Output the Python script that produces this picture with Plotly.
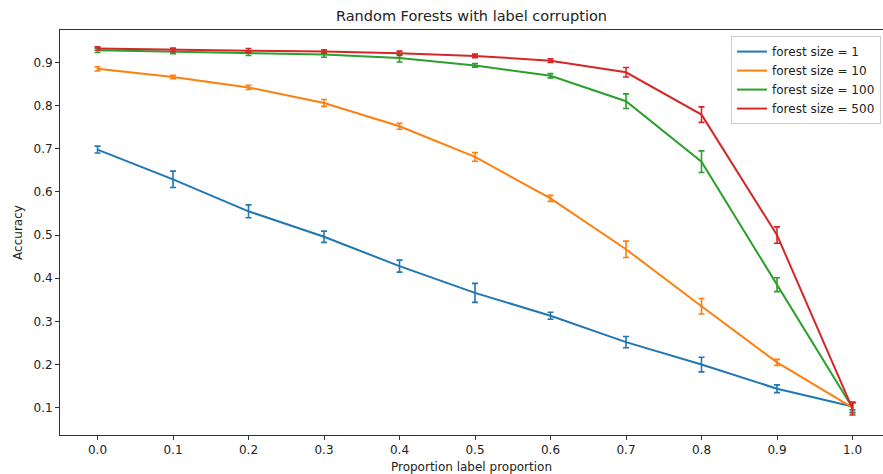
import plotly.graph_objects as go

# Proportion of corrupted labels (x axis)
proportions = [0.0, 0.1, 0.2, 0.3, 0.4, 0.5, 0.6, 0.7, 0.8, 0.9, 1.0]

# Mean accuracy per forest size
acc_1 = [0.698, 0.629, 0.555, 0.496, 0.428, 0.366, 0.313, 0.252, 0.200, 0.144, 0.103]
acc_10 = [0.885, 0.866, 0.842, 0.806, 0.752, 0.681, 0.585, 0.467, 0.335, 0.205, 0.100]
acc_100 = [0.928, 0.925, 0.921, 0.918, 0.910, 0.893, 0.869, 0.810, 0.670, 0.385, 0.100]
acc_500 = [0.932, 0.929, 0.927, 0.925, 0.921, 0.915, 0.904, 0.877, 0.779, 0.500, 0.098]

# Standard deviation of accuracy (error bars)
err_1 = [0.008, 0.019, 0.015, 0.013, 0.014, 0.022, 0.008, 0.013, 0.017, 0.009, 0.008]
err_10 = [0.005, 0.004, 0.005, 0.008, 0.007, 0.010, 0.007, 0.019, 0.018, 0.007, 0.010]
err_100 = [0.005, 0.005, 0.005, 0.006, 0.009, 0.004, 0.005, 0.017, 0.025, 0.016, 0.012]
err_500 = [0.004, 0.004, 0.005, 0.004, 0.005, 0.004, 0.004, 0.011, 0.018, 0.019, 0.015]

series_names = ["forest size = 1", "forest size = 10", "forest size = 100", "forest size = 500"]
series_values = [acc_1, acc_10, acc_100, acc_500]
series_errors = [err_1, err_10, err_100, err_500]
colors = ["#1f77b4", "#ff7f0e", "#2ca02c", "#d62728"]

x_tick_labels = ["0.0", "0.1", "0.2", "0.3", "0.4", "0.5", "0.6", "0.7", "0.8", "0.9", "1.0"]
y_ticks = [0.1, 0.2, 0.3, 0.4, 0.5, 0.6, 0.7, 0.8, 0.9]

FONT = "DejaVu Sans"
TEXT = "#222222"

fig = go.Figure()
for name, vals, errs, col in zip(series_names, series_values, series_errors, colors):
    fig.add_trace(go.Scatter(
        x=proportions, y=vals, name=name, mode="lines",
        line=dict(color=col, width=2),
        error_y=dict(type="data", array=errs, visible=True,
                     color=col, thickness=1.6, width=3),
    ))

fig.update_layout(
    width=883, height=474,
    margin=dict(l=60, r=0, t=30, b=39),
    paper_bgcolor="white", plot_bgcolor="white",
    font=dict(family=FONT, size=12, color=TEXT),
    title=dict(text="Random Forests with label corruption",
               x=0.5, xref="paper", xanchor="center",
               y=1 - 16 / 474, yanchor="middle",
               font=dict(size=14.5, color=TEXT)),
    showlegend=True,
    legend=dict(
        x=0.9976, xanchor="right", y=0.985, yanchor="top",
        bgcolor="rgba(255,255,255,0.8)", bordercolor="#cccccc", borderwidth=1,
        font=dict(family=FONT, size=12, color=TEXT),
        itemwidth=30, tracegroupgap=0,
    ),
)

fig.update_xaxes(
    range=[-0.0497, 1.0404],
    tickmode="array", tickvals=proportions, ticktext=x_tick_labels,
    ticks="outside", ticklen=4, tickcolor="#333333",
    showline=True, linecolor="#333333", linewidth=1, mirror=True,
    showgrid=False, zeroline=False,
    title=dict(text="Proportion label proportion", standoff=6,
               font=dict(size=12, color=TEXT)),
)
fig.update_yaxes(
    range=[0.0368, 0.975],
    tickmode="array", tickvals=y_ticks, ticktext=[f"{v:.1f}" for v in y_ticks],
    ticks="outside", ticklen=4, tickcolor="#333333",
    showline=True, linecolor="#333333", linewidth=1, mirror=False,
    showgrid=False, zeroline=False,
    title=dict(text="Accuracy", standoff=8, font=dict(size=12, color=TEXT)),
)

fig.write_html("out.html")
